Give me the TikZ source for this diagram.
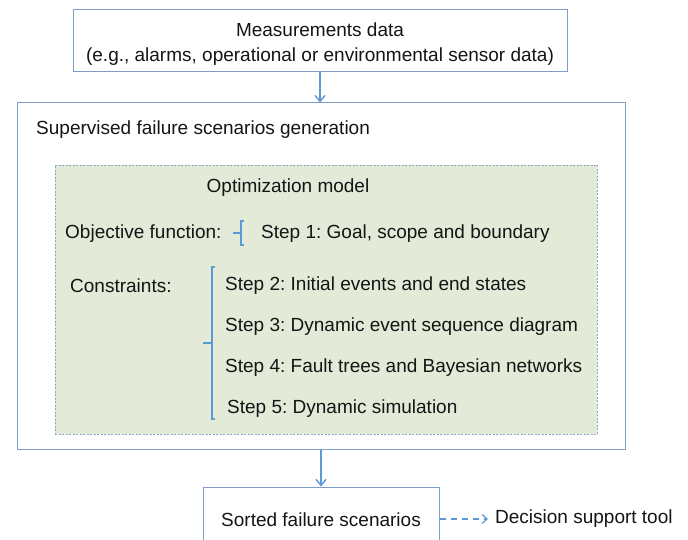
\documentclass[tikz,border=0pt]{standalone}
\usepackage{fontspec}
\setmainfont{Liberation Sans}
\usetikzlibrary{arrows.meta}
\frenchspacing
\definecolor{boxline}{HTML}{7F9CC6}
\definecolor{arrowblue}{HTML}{5B9BD5}
\definecolor{greenfill}{HTML}{E3EAD7}
\definecolor{dashline}{HTML}{8DA6C4}
\definecolor{txt}{HTML}{151515}
\tikzset{
  box/.style={draw=boxline, line width=1pt, fill=white, inner sep=0pt},
  label/.style={font=\fontsize{19}{25}\selectfont, text=txt, inner sep=0pt},
  flow/.style={draw=arrowblue, line width=1.4pt, -{Straight Barb[length=6pt,width=10pt,line width=1.4pt]}},
  brace/.style={draw=arrowblue, line width=1.2pt},
}
\begin{document}
\begin{tikzpicture}[x=1pt, y=-1pt]
\useasboundingbox (0,0) rectangle (688,540);
\clip (0,0) rectangle (688,540);
\fill[white] (0,0) rectangle (688,540);

% input data box
\node[box, minimum width=494pt, minimum height=62pt] (meas) at (320,41) {};
\node[label, align=center] (meastext) at (320,44)
  {Measurements data\\(e.g., alarms, operational or environmental sensor data)};

% generation frame
\node[box, minimum width=608pt, minimum height=346pt] (gen) at (321,276) {};
\node[label, anchor=west] (gentitle) at (36,130) {Supervised failure scenarios generation};

% optimisation model panel
\node[draw=dashline, dashed, dash pattern=on 2pt off 1.5pt, line width=0.8pt, fill=greenfill,
      minimum width=542pt, minimum height=269pt, inner sep=0pt] (opt) at (326,299.5) {};
\node[label] (opttitle) at (288,188) {Optimization model};

\node[label, anchor=west] (objf) at (65,234) {Objective function:};
\node[label, anchor=west] (s1) at (261,234) {Step 1: Goal, scope and boundary};
\node[label, anchor=west] (cons) at (70,286) {Constraints:};
\node[label, anchor=west] (s2) at (225,286) {Step 2: Initial events and end states};
\node[label, anchor=west] (s3) at (225,327) {Step 3: Dynamic event sequence diagram};
\node[label, anchor=west] (s4) at (225,368) {Step 4: Fault trees and Bayesian networks};
\node[label, anchor=west] (s5) at (227,409) {Step 5: Dynamic simulation};

% brackets
\coordinate (b1t) at (243.5,221);
\coordinate (b1b) at (243.5,245);
\draw[brace] (b1t) -- (241,221) -- (241,245) -- (b1b);
\draw[brace] (241,233) -- (233,233);

\coordinate (b2t) at (215,267);
\coordinate (b2b) at (215,419);
\draw[brace] (b2t) -- (212,267) -- (212,419) -- (b2b);
\draw[brace] (212,343) -- (203,343);

% output box
\node[box, minimum width=236pt, minimum height=64pt] (sorted) at (321,519) {};
\node[label] (sortedtext) at (321,520) {Sorted failure scenarios};
\node[label, anchor=west] (dst) at (495,519) {Decision support tool};
\coordinate (dstin) at ([xshift=-7pt]dst.west);

% connectors
\draw[flow] (meas.south) -- (meas.south |- gen.north);
\draw[flow] (gen.south -| sorted.north) -- (sorted.north);
\draw[draw=arrowblue, line width=1.2pt, dash pattern=on 6pt off 5pt,
      -{Straight Barb[length=5pt,width=9pt,line width=1.2pt]}] (sorted.east |- dstin) -- (dstin);
\end{tikzpicture}
\end{document}
